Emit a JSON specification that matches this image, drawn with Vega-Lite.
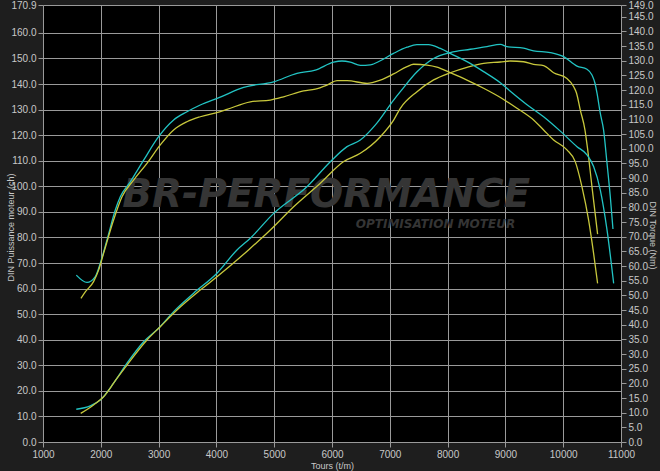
{
"$schema": "https://vega.github.io/schema/vega-lite/v6.json",
"width": 578, "height": 437,
"autosize": {"type": "none"},
"padding": {"left": 43, "top": 5, "right": 39, "bottom": 29},
"background": "#1e1e1e",
"config": {
  "view": {"fill": "#000000", "stroke": null},
  "font": "Liberation Sans",
  "axis": {"domain": false, "gridColor": "#9a9a9a", "gridWidth": 1, "tickColor": "#9a9a9a", "tickSize": 5, "labelColor": "#c8c8c8", "labelFontSize": 10, "titleColor": "#c8c8c8", "titleFontSize": 9, "titleFontWeight": "normal", "labelPadding": 2, "labelOverlap": false, "labelFlush": false}
},
"datasets": {
  "wm": [
    {"rpm": 5900, "v": 92.0, "t": "big", "label": "BR-PERFORMANCE"},
    {"rpm": 7790, "v": 83.8, "t": "small", "label": "OPTIMISATION MOTEUR"}
  ],
  "curves": [
    {"kind":"P","run":"A","rpm":1576,"v":12.8},{"kind":"P","run":"A","rpm":1818,"v":14.1},{"kind":"P","run":"A","rpm":1991,"v":16.4},{"kind":"P","run":"A","rpm":2221,"v":23.0},{"kind":"P","run":"A","rpm":2453,"v":30.8},{"kind":"P","run":"A","rpm":2741,"v":39.2},{"kind":"P","run":"A","rpm":3000,"v":44.5},{"kind":"P","run":"A","rpm":3260,"v":51.0},{"kind":"P","run":"A","rpm":3606,"v":58.2},{"kind":"P","run":"A","rpm":4010,"v":66.0},{"kind":"P","run":"A","rpm":4356,"v":75.1},{"kind":"P","run":"A","rpm":4587,"v":79.7},{"kind":"P","run":"A","rpm":4990,"v":89.4},{"kind":"P","run":"A","rpm":5566,"v":99.8},{"kind":"P","run":"A","rpm":5971,"v":109.6},{"kind":"P","run":"A","rpm":6260,"v":115.5},{"kind":"P","run":"A","rpm":6490,"v":118.1},{"kind":"P","run":"A","rpm":6773,"v":124.6},{"kind":"P","run":"A","rpm":7066,"v":133.7},{"kind":"P","run":"A","rpm":7182,"v":137.0},{"kind":"P","run":"A","rpm":7471,"v":144.8},{"kind":"P","run":"A","rpm":7758,"v":150.0},{"kind":"P","run":"A","rpm":8047,"v":152.3},{"kind":"P","run":"A","rpm":8393,"v":153.6},{"kind":"P","run":"A","rpm":8682,"v":154.6},{"kind":"P","run":"A","rpm":8912,"v":155.5},{"kind":"P","run":"A","rpm":9028,"v":154.6},{"kind":"P","run":"A","rpm":9315,"v":154.0},{"kind":"P","run":"A","rpm":9488,"v":153.0},{"kind":"P","run":"A","rpm":9777,"v":152.3},{"kind":"P","run":"A","rpm":10007,"v":150.7},{"kind":"P","run":"A","rpm":10239,"v":147.0},{"kind":"P","run":"A","rpm":10412,"v":145.8},{"kind":"P","run":"A","rpm":10498,"v":143.5},{"kind":"P","run":"A","rpm":10550,"v":140.3},{"kind":"P","run":"A","rpm":10585,"v":136.4},{"kind":"P","run":"A","rpm":10642,"v":128.5},{"kind":"P","run":"A","rpm":10699,"v":122.0},{"kind":"P","run":"A","rpm":10758,"v":109.0},{"kind":"P","run":"A","rpm":10815,"v":95.9},{"kind":"P","run":"A","rpm":10861,"v":83.3},
    {"kind":"P","run":"B","rpm":1652,"v":11.2},{"kind":"P","run":"B","rpm":1875,"v":14.5},{"kind":"P","run":"B","rpm":2048,"v":17.7},{"kind":"P","run":"B","rpm":2279,"v":24.9},{"kind":"P","run":"B","rpm":2453,"v":30.1},{"kind":"P","run":"B","rpm":2799,"v":39.9},{"kind":"P","run":"B","rpm":3029,"v":45.1},{"kind":"P","run":"B","rpm":3318,"v":51.6},{"kind":"P","run":"B","rpm":3721,"v":59.4},{"kind":"P","run":"B","rpm":4010,"v":64.6},{"kind":"P","run":"B","rpm":4570,"v":75.4},{"kind":"P","run":"B","rpm":4933,"v":82.9},{"kind":"P","run":"B","rpm":5336,"v":92.0},{"kind":"P","run":"B","rpm":5798,"v":101.2},{"kind":"P","run":"B","rpm":6196,"v":109.6},{"kind":"P","run":"B","rpm":6490,"v":112.9},{"kind":"P","run":"B","rpm":6836,"v":119.4},{"kind":"P","run":"B","rpm":7066,"v":125.9},{"kind":"P","run":"B","rpm":7182,"v":130.5},{"kind":"P","run":"B","rpm":7471,"v":137.0},{"kind":"P","run":"B","rpm":7758,"v":141.6},{"kind":"P","run":"B","rpm":8047,"v":144.4},{"kind":"P","run":"B","rpm":8335,"v":146.5},{"kind":"P","run":"B","rpm":8623,"v":148.1},{"kind":"P","run":"B","rpm":8912,"v":148.6},{"kind":"P","run":"B","rpm":9085,"v":149.0},{"kind":"P","run":"B","rpm":9315,"v":148.7},{"kind":"P","run":"B","rpm":9488,"v":147.7},{"kind":"P","run":"B","rpm":9661,"v":147.2},{"kind":"P","run":"B","rpm":9834,"v":144.4},{"kind":"P","run":"B","rpm":10065,"v":142.2},{"kind":"P","run":"B","rpm":10180,"v":139.0},{"kind":"P","run":"B","rpm":10230,"v":136.5},{"kind":"P","run":"B","rpm":10296,"v":129.8},{"kind":"P","run":"B","rpm":10377,"v":122.0},{"kind":"P","run":"B","rpm":10420,"v":115.0},{"kind":"P","run":"B","rpm":10498,"v":99.8},{"kind":"P","run":"B","rpm":10595,"v":81.3},
    {"kind":"T","run":"A","rpm":1576,"v":56.9},{"kind":"T","run":"A","rpm":1761,"v":54.4},{"kind":"T","run":"A","rpm":1905,"v":56.4},{"kind":"T","run":"A","rpm":1990,"v":60.9},{"kind":"T","run":"A","rpm":2107,"v":68.9},{"kind":"T","run":"A","rpm":2251,"v":79.1},{"kind":"T","run":"A","rpm":2337,"v":83.6},{"kind":"T","run":"A","rpm":2510,"v":88.7},{"kind":"T","run":"A","rpm":2741,"v":96.1},{"kind":"T","run":"A","rpm":3000,"v":104.1},{"kind":"T","run":"A","rpm":3260,"v":109.8},{"kind":"T","run":"A","rpm":3491,"v":112.6},{"kind":"T","run":"A","rpm":3721,"v":114.9},{"kind":"T","run":"A","rpm":4055,"v":117.5},{"kind":"T","run":"A","rpm":4471,"v":120.9},{"kind":"T","run":"A","rpm":4990,"v":122.8},{"kind":"T","run":"A","rpm":5394,"v":125.7},{"kind":"T","run":"A","rpm":5711,"v":126.8},{"kind":"T","run":"A","rpm":6028,"v":129.5},{"kind":"T","run":"A","rpm":6173,"v":129.9},{"kind":"T","run":"A","rpm":6317,"v":129.5},{"kind":"T","run":"A","rpm":6490,"v":128.4},{"kind":"T","run":"A","rpm":6663,"v":128.6},{"kind":"T","run":"A","rpm":6836,"v":130.0},{"kind":"T","run":"A","rpm":7066,"v":132.5},{"kind":"T","run":"A","rpm":7298,"v":134.6},{"kind":"T","run":"A","rpm":7469,"v":135.5},{"kind":"T","run":"A","rpm":7671,"v":135.5},{"kind":"T","run":"A","rpm":7874,"v":134.2},{"kind":"T","run":"A","rpm":8104,"v":131.9},{"kind":"T","run":"A","rpm":8335,"v":129.7},{"kind":"T","run":"A","rpm":8623,"v":126.3},{"kind":"T","run":"A","rpm":8912,"v":122.5},{"kind":"T","run":"A","rpm":9085,"v":119.6},{"kind":"T","run":"A","rpm":9374,"v":115.0},{"kind":"T","run":"A","rpm":9661,"v":110.9},{"kind":"T","run":"A","rpm":9950,"v":106.0},{"kind":"T","run":"A","rpm":10239,"v":100.7},{"kind":"T","run":"A","rpm":10412,"v":97.9},{"kind":"T","run":"A","rpm":10526,"v":93.9},{"kind":"T","run":"A","rpm":10642,"v":85.9},{"kind":"T","run":"A","rpm":10758,"v":72.3},{"kind":"T","run":"A","rpm":10873,"v":54.1},
    {"kind":"T","run":"B","rpm":1656,"v":49.0},{"kind":"T","run":"B","rpm":1732,"v":51.2},{"kind":"T","run":"B","rpm":1875,"v":54.7},{"kind":"T","run":"B","rpm":1962,"v":58.6},{"kind":"T","run":"B","rpm":2048,"v":64.3},{"kind":"T","run":"B","rpm":2221,"v":75.7},{"kind":"T","run":"B","rpm":2367,"v":83.6},{"kind":"T","run":"B","rpm":2568,"v":89.3},{"kind":"T","run":"B","rpm":2799,"v":95.0},{"kind":"T","run":"B","rpm":3029,"v":101.3},{"kind":"T","run":"B","rpm":3260,"v":106.4},{"kind":"T","run":"B","rpm":3491,"v":109.2},{"kind":"T","run":"B","rpm":3721,"v":110.9},{"kind":"T","run":"B","rpm":4055,"v":112.6},{"kind":"T","run":"B","rpm":4183,"v":113.4},{"kind":"T","run":"B","rpm":4587,"v":116.0},{"kind":"T","run":"B","rpm":4933,"v":116.6},{"kind":"T","run":"B","rpm":5163,"v":117.7},{"kind":"T","run":"B","rpm":5509,"v":119.7},{"kind":"T","run":"B","rpm":5711,"v":120.3},{"kind":"T","run":"B","rpm":5913,"v":121.7},{"kind":"T","run":"B","rpm":6087,"v":123.2},{"kind":"T","run":"B","rpm":6260,"v":123.2},{"kind":"T","run":"B","rpm":6606,"v":122.3},{"kind":"T","run":"B","rpm":6836,"v":123.4},{"kind":"T","run":"B","rpm":7066,"v":125.5},{"kind":"T","run":"B","rpm":7298,"v":128.0},{"kind":"T","run":"B","rpm":7412,"v":128.8},{"kind":"T","run":"B","rpm":7644,"v":128.5},{"kind":"T","run":"B","rpm":7816,"v":127.8},{"kind":"T","run":"B","rpm":8047,"v":125.9},{"kind":"T","run":"B","rpm":8335,"v":123.4},{"kind":"T","run":"B","rpm":8623,"v":120.6},{"kind":"T","run":"B","rpm":8969,"v":116.8},{"kind":"T","run":"B","rpm":9200,"v":113.8},{"kind":"T","run":"B","rpm":9488,"v":109.8},{"kind":"T","run":"B","rpm":9661,"v":106.4},{"kind":"T","run":"B","rpm":9834,"v":103.0},{"kind":"T","run":"B","rpm":10065,"v":99.6},{"kind":"T","run":"B","rpm":10208,"v":95.6},{"kind":"T","run":"B","rpm":10325,"v":87.0},{"kind":"T","run":"B","rpm":10439,"v":75.7},{"kind":"T","run":"B","rpm":10526,"v":64.3},{"kind":"T","run":"B","rpm":10595,"v":54.1}
  ]
},
"encoding": {
  "x": {"field": "rpm", "type": "quantitative", "scale": {"domain": [1000, 11000], "nice": false},
        "axis": {"title": "Tours (t/m)", "values": [1000,2000,3000,4000,5000,6000,7000,8000,9000,10000,11000], "format": "d", "grid": true, "titlePadding": 2}}
},
"layer": [
  {
    "encoding": {
      "y": {"field": "v", "type": "quantitative", "scale": {"domain": [0, 170.9], "nice": false},
            "axis": {"title": "DIN Puissance moteur (ch)", "orient": "left", "values": [0,10,20,30,40,50,60,70,80,90,100,110,120,130,140,150,160,170.9], "format": ".1f", "grid": true, "titleAngle": -90, "titleX": -33, "titleY": 222, "titleAlign": "center", "titleBaseline": "middle"}}
    },
    "layer": [
      {
        "data": {"name": "wm"},
        "transform": [{"filter": "datum.t == 'big'"}],
        "mark": {"type": "text", "font": "DejaVu Sans", "fontSize": 39, "fontWeight": "bold", "fontStyle": "italic", "color": "#353535", "align": "center", "baseline": "alphabetic"},
        "encoding": {"text": {"field": "label"}}
      },
      {
        "data": {"name": "wm"},
        "transform": [{"filter": "datum.t == 'small'"}],
        "mark": {"type": "text", "font": "DejaVu Sans", "fontSize": 12, "fontWeight": "bold", "fontStyle": "italic", "color": "#353535", "align": "center", "baseline": "alphabetic"},
        "encoding": {"text": {"field": "label"}}
      },
      {
        "data": {"name": "curves"},
        "transform": [{"filter": "datum.kind == 'P'"}],
        "mark": {"type": "line", "strokeWidth": 1.3, "interpolate": "monotone"},
        "encoding": {
          "color": {"field": "run", "type": "nominal", "scale": {"domain": ["A", "B"], "range": ["#22c4c4", "#c8c83c"]}, "legend": null},
          "order": {"field": "rpm", "type": "quantitative"}
        }
      }
    ]
  },
  {
    "data": {"name": "curves"},
    "transform": [{"filter": "datum.kind == 'T'"}],
    "mark": {"type": "line", "strokeWidth": 1.3, "interpolate": "monotone"},
    "encoding": {
      "y": {"field": "v", "type": "quantitative", "scale": {"domain": [0, 149], "nice": false},
            "axis": {"title": "DIN Torque (Nm)", "orient": "right", "values": [0,5,10,15,20,25,30,35,40,45,50,55,60,65,70,75,80,85,90,95,100,105,110,115,120,125,130,135,140,145,149], "format": ".1f", "grid": false, "titleAngle": 90, "titleX": 31, "titleY": 230, "titleAlign": "center", "titleBaseline": "middle"}},
      "color": {"field": "run", "type": "nominal", "scale": {"domain": ["A", "B"], "range": ["#22c4c4", "#c8c83c"]}, "legend": null},
      "order": {"field": "rpm", "type": "quantitative"}
    }
  }
],
"resolve": {"scale": {"y": "independent"}}
}
